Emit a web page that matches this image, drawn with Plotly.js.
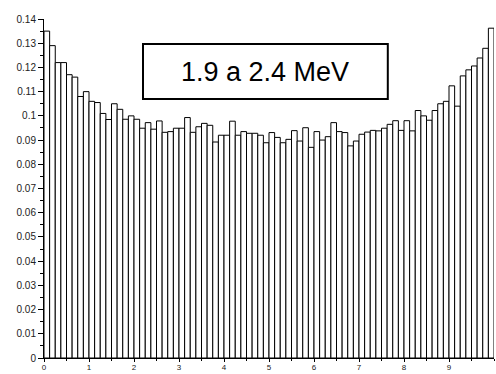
<!DOCTYPE html>
<html>
<head>
<meta charset="utf-8">
<script src="https://cdn.plot.ly/plotly-3.0.1.min.js"></script>
<style>
  html, body { margin: 0; padding: 0; background: #fff; }
  #chart { width: 496px; height: 374px; }
</style>
</head>
<body>
<div id="chart"></div>
<script>
// Bin edges: 80 bins of width 0.125 from 0 to 10
const binWidth = 0.125;
const binStart = 0;
const heights = [
  0.135, 0.129, 0.122, 0.122, 0.117, 0.116, 0.108, 0.110, 0.106, 0.1055,
  0.101, 0.0985, 0.105, 0.1027, 0.0986, 0.100, 0.0986, 0.0949, 0.0972, 0.0945,
  0.0979, 0.0932, 0.0935, 0.0949, 0.0949, 0.0993, 0.0932, 0.0955, 0.0969, 0.0961,
  0.0892, 0.0920, 0.0920, 0.0978, 0.0920, 0.0935, 0.0928, 0.0928, 0.0920, 0.0889,
  0.0931, 0.0911, 0.0889, 0.0903, 0.0939, 0.0896, 0.0951, 0.0870, 0.0935, 0.0900,
  0.0914, 0.0972, 0.0935, 0.0931, 0.0876, 0.0896, 0.0924, 0.0933, 0.0940, 0.0938,
  0.0949, 0.0965, 0.0980, 0.0940, 0.0980, 0.0938, 0.1022, 0.1000, 0.0982, 0.1022,
  0.1050, 0.1060, 0.1124, 0.1040, 0.1165, 0.1190, 0.1206, 0.1239, 0.1279, 0.1362
];
const xTickVals = [0, 1, 2, 3, 4, 5, 6, 7, 8, 9];
const xTickText = ["0", "1", "2", "3", "4", "5", "6", "7", "8", "9"];
const yTickVals = [0, 0.01, 0.02, 0.03, 0.04, 0.05, 0.06, 0.07, 0.08, 0.09, 0.1, 0.11, 0.12, 0.13, 0.14];
const yTickText = ["0", "0.01", "0.02", "0.03", "0.04", "0.05", "0.06", "0.07", "0.08", "0.09", "0.1", "0.11", "0.12", "0.13", "0.14"];
const labelText = "1.9 a 2.4 MeV";

const centers = heights.map((_, i) => binStart + binWidth * (i + 0.5));

const trace = {
  type: 'bar',
  x: centers,
  y: heights,
  width: binWidth,
  marker: { color: '#ffffff', line: { color: '#000000', width: 1 } },
  hoverinfo: 'skip'
};

const layout = {
  width: 496,
  height: 374,
  margin: { l: 44, r: 2, t: 19, b: 16, pad: 0 },
  paper_bgcolor: '#ffffff',
  plot_bgcolor: '#ffffff',
  showlegend: false,
  bargap: 0,
  font: { family: 'Liberation Sans, Arial, sans-serif', size: 9, color: '#222' },
  xaxis: {
    range: [0, 10],
    showgrid: false,
    zeroline: false,
    showline: true,
    linecolor: '#000',
    linewidth: 1,
    ticks: 'outside',
    ticklen: 3,
    tickcolor: '#000',
    tickvals: xTickVals,
    ticktext: xTickText,
    ticklabelstandoff: -2,
    tickfont: { size: 8, color: '#222' },
    minor: { dtick: 0.5, ticks: 'outside', ticklen: 2, tickcolor: '#000', showgrid: false },
    fixedrange: true
  },
  yaxis: {
    range: [0, 0.14],
    showgrid: false,
    zeroline: false,
    showline: true,
    linecolor: '#000',
    linewidth: 1,
    ticks: 'outside',
    ticklen: 5,
    tickcolor: '#000',
    tickvals: yTickVals,
    ticktext: yTickText,
    tickfont: { size: 10, color: '#222' },
    minor: { dtick: 0.005, ticks: 'outside', ticklen: 3, tickcolor: '#000', showgrid: false },
    fixedrange: true
  },
  shapes: [{
    type: 'rect', xref: 'paper', yref: 'paper',
    x0: 0.22, x1: 0.764, y0: 0.764, y1: 0.926,
    line: { color: '#000', width: 2 }, fillcolor: '#ffffff', layer: 'above'
  }],
  annotations: [{
    xref: 'paper', yref: 'paper', x: 0.492, y: 0.843,
    xanchor: 'center', yanchor: 'middle',
    text: labelText, showarrow: false,
    font: { family: 'Liberation Sans, Arial, sans-serif', size: 27, color: '#000' }
  }]
};

Plotly.newPlot('chart', [trace], layout, { staticPlot: true, displayModeBar: false });
</script>
</body>
</html>
